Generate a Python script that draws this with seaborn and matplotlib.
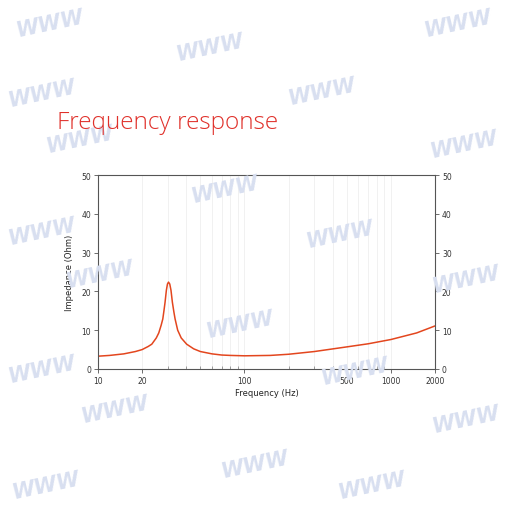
import numpy as np
import pandas as pd
import matplotlib
matplotlib.use("Agg")
import matplotlib.pyplot as plt
import seaborn as sns
from matplotlib.ticker import FixedLocator, LogLocator, NullFormatter

# Data
freq_hz = [10, 12, 15, 18, 20, 22, 23.3, 25, 26, 27, 27.7, 28.2, 28.7, 29.3, 29.8, 30.3,
           30.9, 31.5, 32.2, 33, 33.6, 35, 37, 40.3, 45, 50, 60, 70, 80, 100, 150, 200,
           300, 500, 700, 1000, 1500, 2000]
impedance_ohm = [3.3, 3.5, 3.9, 4.5, 5.0, 5.8, 6.4, 8.0, 9.3, 11.3, 12.9, 15.0, 17.2, 20.3,
                 21.9, 22.4, 21.9, 20.3, 17.2, 14.6, 12.9, 10.0, 8.0, 6.4, 5.2, 4.5, 3.9,
                 3.6, 3.5, 3.4, 3.5, 3.8, 4.5, 5.7, 6.5, 7.6, 9.3, 11.1]
x_ticks = [10, 20, 100, 500, 1000, 2000]
y_ticks = [0, 10, 20, 30, 40, 50]
title = "Frequency response"
x_label = "Frequency (Hz)"
y_label = "Impedance (Ohm)"

watermarks = [(50, 24), (210, 48), (322, 92), (458, 24), (42, 94), (80, 140), (464, 145),
              (225, 190), (340, 235), (42, 232), (100, 275), (466, 280), (240, 325),
              (355, 372), (42, 370), (115, 410), (466, 420), (255, 465), (372, 486),
              (46, 486)]

sns.set_theme(style="white")
plt.rcParams['font.family'] = ['DejaVu Sans']

fig = plt.figure(figsize=(5.1, 5.1), dpi=100)
fig.patch.set_facecolor("white")

# watermarks
for (px, py) in watermarks:
    fig.text(px / 510, 1 - py / 510, "WWW", fontsize=15, fontweight="bold",
             color="#d8dff0", rotation=12, ha="center", va="center", zorder=0,
             family="DejaVu Sans", style="italic")

ax = fig.add_axes([98 / 510, 1 - 370 / 510, (435 - 98) / 510, (370 - 176) / 510])
ax.patch.set_alpha(0)

df = pd.DataFrame({"freq": freq_hz, "imp": impedance_ohm})
sns.lineplot(data=df, x="freq", y="imp", ax=ax, color="#e3461e", linewidth=1.1)

ax.set_xscale("log")
ax.set_xlim(10, 2000)
ax.set_ylim(0, 50)
ax.xaxis.set_major_locator(FixedLocator(x_ticks))
ax.set_xticklabels([str(t) for t in x_ticks])
ax.xaxis.set_minor_locator(LogLocator(base=10, subs=np.arange(2, 10)))
ax.xaxis.set_minor_formatter(NullFormatter())
ax.set_yticks(y_ticks)
ax.set_yticklabels([str(t) for t in y_ticks])

ax.grid(True, which="both", axis="x", color="#efefef", linewidth=0.6)
ax.grid(False, axis="y")

for sp in ax.spines.values():
    sp.set_color("#555555")
    sp.set_linewidth(0.8)

ax.tick_params(axis="both", which="major", labelsize=5.5, labelcolor="#333333",
               color="#555555", length=3, width=0.6, direction="out", pad=2,
               left=True, bottom=True)
ax.tick_params(axis="x", which="minor", bottom=True, length=2, width=0.5,
               color="#777777", direction="in")
ax.tick_params(axis="y", which="major", right=True, labelright=True)

ax.set_xlabel(x_label, fontsize=6, color="#222222", labelpad=2)
ax.set_ylabel(y_label, fontsize=6, color="#222222", labelpad=5)

fig.text(57 / 510, 1 - 123 / 510, title, fontsize=17.6, color="#e0312b",
         ha="left", va="center", family="Open Sans", fontweight="light")

fig.savefig("out.png", dpi=100, facecolor="white")
